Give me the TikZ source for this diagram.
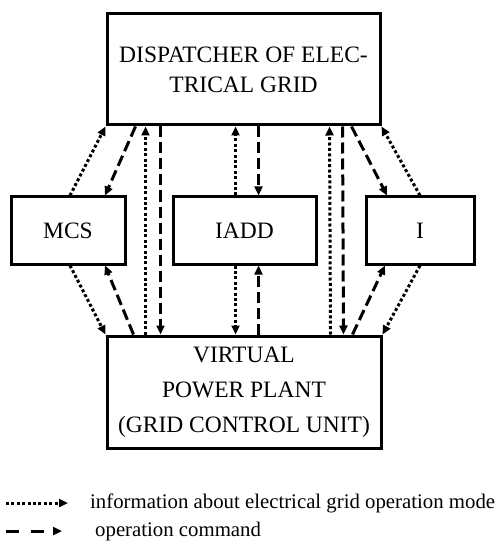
\documentclass[tikz,border=0pt]{standalone}
\usepackage{fontspec}
\setmainfont{Liberation Serif}
\usetikzlibrary{arrows.meta}
\begin{document}
\begin{tikzpicture}[x=1pt,y=-1pt,
 box/.style={draw, line width=3pt, rectangle, inner sep=0pt, align=center, font=\fontsize{23.5}{30}\selectfont},
 tip/.style={-{Triangle[length=9pt,width=8pt]}},
 info/.style={tip, line width=3pt, dash pattern=on 3pt off 2.4pt},
 cmd/.style={tip, line width=3pt, dash pattern=on 11pt off 5pt},
 legtext/.style={anchor=west, inner sep=0pt, font=\fontsize{20.8}{24}\selectfont},
]
\useasboundingbox (0,0) rectangle (501,545);
\node[box, minimum width=273pt, minimum height=111pt] (top) at (243.5,69.5) {DISPATCHER OF ELEC-\\TRICAL GRID};
\node[box, minimum width=274pt, minimum height=112pt, font=\fontsize{23.5}{35}\selectfont] (bot) at (244,392) {VIRTUAL\\POWER PLANT\\(GRID CONTROL UNIT)};
\node[box, minimum width=114pt, minimum height=67pt] (mcs) at (68,230.5) {MCS};
\node[box, minimum width=143pt, minimum height=67pt] (iadd) at (244.5,230.5) {IADD};
\node[box, minimum width=108pt, minimum height=67pt] (i) at (420,230.5) {I};
% left side
\draw[info] ([xshift=2pt]mcs.north) -- (top.south west);
\draw[cmd] ([xshift=30pt]top.south west) -- ([xshift=37pt]mcs.north);
\draw[info] ([xshift=2pt]mcs.south) -- (bot.north west);
\draw[cmd] ([xshift=28pt]bot.north west) -- ([xshift=37pt]mcs.south);
\draw[info] ([xshift=40pt]bot.north west) -- ([xshift=40pt]top.south west);
\draw[cmd] ([xshift=55pt]top.south west) -- ([xshift=55pt]bot.north west);
% middle
\draw[info] ([xshift=-9pt]iadd.north) -- ([xshift=-9pt]iadd.north |- top.south);
\draw[cmd] ([xshift=14pt]iadd.north |- top.south) -- ([xshift=14pt]iadd.north);
\draw[info] ([xshift=-9pt]iadd.south) -- ([xshift=-9pt]iadd.south |- bot.north);
\draw[cmd] ([xshift=14pt]iadd.south |- bot.north) -- ([xshift=14pt]iadd.south);
% right side
\draw[info] ([xshift=-52pt]bot.north east) -- ([xshift=-52pt]top.south east);
\draw[cmd] ([xshift=-39pt]top.south east) -- ([xshift=-39pt]bot.north east);
\draw[cmd] ([xshift=-30pt]top.south east) -- ([xshift=-33pt]i.north);
\draw[info] (i.north) -- (top.south east);
\draw[cmd] ([xshift=-30pt]bot.north east) -- ([xshift=-35pt]i.south);
\draw[info] (i.south) -- (bot.north east);
% legend
\coordinate (l1a) at (6,503);
\coordinate (l1b) at (68,503);
\coordinate (l2a) at (6,531);
\coordinate (l2b) at (62,531);
\draw[info] (l1a) -- (l1b);
\draw[cmd, dash pattern=on 13pt off 12pt] (l2a) -- (l2b);
\node[legtext] (t1) at (90,503) {information about electrical grid operation mode};
\node[legtext] (t2) at (95,531) {operation command};
\end{tikzpicture}
\end{document}
